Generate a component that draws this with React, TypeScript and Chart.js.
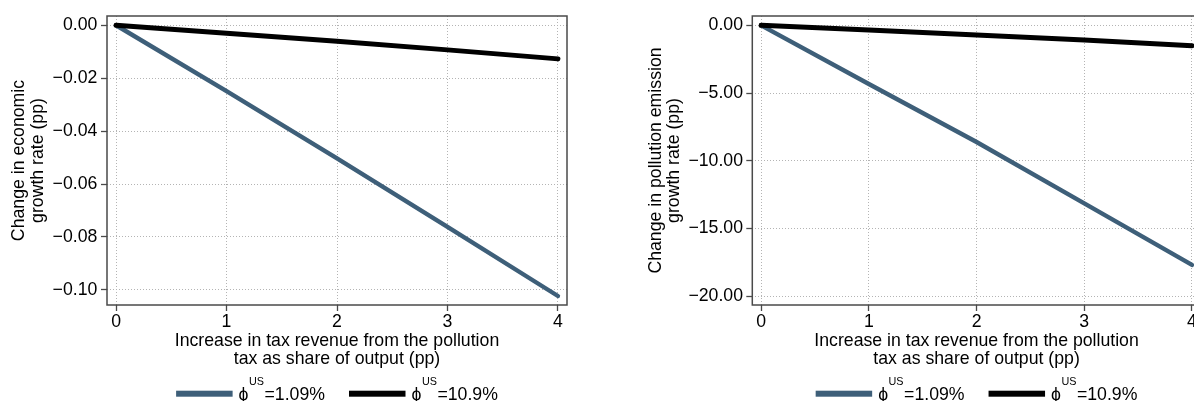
import React, { useEffect, useRef } from "react";
import { Chart, registerables } from "chart.js";

Chart.register(...registerables);

// ---- data ----
const xValues = [0, 1, 2, 3, 4];
const growthPhiLow = [0, -0.0249, -0.0503, -0.0762, -0.1023];
const growthPhiHigh = [0, -0.003, -0.006, -0.0093, -0.0127];
const emissionPhiLow = [0, -4.33, -8.62, -13.15, -17.7];
const emissionPhiHigh = [0, -0.35, -0.72, -1.09, -1.51];
const phiLabels = ["1.09%", "10.9%"];
const xTitle = ["Increase in tax revenue from the pollution", "tax as share of output (pp)"];
const growthTitle = ["Change in economic", "growth rate (pp)"];
const emissionTitle = ["Change in pollution emission", "growth rate (pp)"];

const BLUE = "rgb(62,95,121)";
const BLACK = "#000000";
const FRAME = "#4a4a4a";
const GRID = "#b4b4b4";
const FAM = "'Liberation Sans', Arial, Helvetica, sans-serif";
const FS = 17.7;

const fmt = (v: number) => {
  const a = Math.abs(v);
  if (a < 1e-9) return "0.00";
  return (v < 0 ? "\u2212" : "") + a.toFixed(2);
};

type Panel = {
  left: number;
  width: number;
  yAxisWidth: number;
  padRight: number;
  yTitle: string[];
  yTitlePad: number;
  yTickPad: number;
  yMin: number;
  yMax: number;
  yStep: number;
  low: number[];
  high: number[];
};

const panels: Panel[] = [
  {
    left: 0, width: 590, yAxisWidth: 107, padRight: 23,
    yTitle: growthTitle, yTitlePad: 10.3, yTickPad: 3.7,
    yMin: -0.1057, yMax: 0.0035, yStep: 0.02,
    low: growthPhiLow, high: growthPhiHigh,
  },
  {
    left: 600, width: 620, yAxisWidth: 152.3, padRight: 19.2,
    yTitle: emissionTitle, yTitlePad: 46.8, yTickPad: 3.3,
    yMin: -20.66, yMax: 0.69, yStep: 5,
    low: emissionPhiLow, high: emissionPhiHigh,
  },
];

const framePlugin = {
  id: "frame",
  beforeDatasetsDraw(chart: any) {
    const { ctx, chartArea: a } = chart;
    ctx.save();
    ctx.strokeStyle = FRAME;
    ctx.lineWidth = 1.5;
    ctx.strokeRect(a.left, a.top, a.right - a.left, a.bottom - a.top);
    ctx.restore();
  },
};

const legendPlugin = {
  id: "stataLegend",
  afterDraw(chart: any) {
    const { ctx, chartArea: a } = chart;
    const mainFont = `${FS}px ${FAM}`;
    const supFont = `10.8px ${FAM}`;
    const swatch = 56.5;
    const gap = 6;
    const itemGap = 24;
    const colors = [BLUE, BLACK];
    ctx.save();
    const parts = phiLabels.map((lab) => {
      ctx.font = mainFont;
      const wPhi = ctx.measureText("\u03d5").width;
      const wRest = ctx.measureText("=" + lab).width;
      ctx.font = supFont;
      const wSup = ctx.measureText("US").width;
      return { lab, wPhi, wSup, wRest, total: swatch + gap + wPhi + 0.5 + wSup + 0.5 + wRest };
    });
    const totalW = parts.reduce((s, p) => s + p.total, 0) + itemGap * (parts.length - 1);
    let x = (a.left + a.right) / 2 - totalW / 2;
    const yc = 393.7;
    const base = 400;
    parts.forEach((p, i) => {
      ctx.fillStyle = colors[i];
      ctx.fillRect(x, yc - 3, swatch, 6);
      let tx = x + swatch + gap;
      ctx.fillStyle = "#000";
      ctx.textBaseline = "alphabetic";
      ctx.textAlign = "left";
      ctx.font = mainFont;
      ctx.fillText("\u03d5", tx, base);
      tx += p.wPhi + 0.5;
      ctx.font = supFont;
      ctx.fillText("US", tx, base - 15);
      tx += p.wSup + 0.5;
      ctx.font = mainFont;
      ctx.fillText("=" + p.lab, tx, base);
      x += p.total + itemGap;
    });
    ctx.restore();
  },
};

function ChartPanel({ panel }: { panel: Panel }) {
  const ref = useRef<HTMLCanvasElement | null>(null);
  useEffect(() => {
    if (!ref.current) return;
    const mk = (ys: number[]) => xValues.map((x, i) => ({ x, y: ys[i] }));
    const chart = new Chart(ref.current, {
      type: "line",
      data: {
        datasets: [
          {
            label: "phi " + phiLabels[0],
            data: mk(panel.low),
            borderColor: BLUE,
            borderWidth: 4.4,
            pointRadius: 0,
            borderCapStyle: "round",
            order: 1,
          },
          {
            label: "phi " + phiLabels[1],
            data: mk(panel.high),
            borderColor: BLACK,
            borderWidth: 5,
            pointRadius: 0,
            borderCapStyle: "round",
            order: 0,
          },
        ],
      },
      options: {
        animation: false,
        responsive: false,
        maintainAspectRatio: false,
        devicePixelRatio: 1,
        layout: { padding: { left: 0, top: 16, right: panel.padRight, bottom: 32.5 } },
        plugins: { legend: { display: false }, tooltip: { enabled: false } },
        scales: {
          x: {
            type: "linear",
            min: -0.082,
            max: 4.082,
            afterFit: (s: any) => { s.height = 63.5; },
            border: { display: false, dash: [1, 2] },
            grid: {
              color: GRID,
              lineWidth: 1,
              drawTicks: true,
              tickLength: 6,
              tickColor: FRAME,
              tickWidth: 1.3,
              tickBorderDash: [],
            },
            ticks: {
              stepSize: 1,
              includeBounds: false,
              padding: 0,
              color: "#000",
              font: { family: FAM, size: FS },
              maxRotation: 0,
              callback: (v: any) => String(v),
            },
            title: {
              display: true,
              text: xTitle,
              color: "#000",
              font: { family: FAM, size: FS, lineHeight: 1.035 },
              padding: { top: 0, bottom: 0 },
            },
          },
          y: {
            type: "linear",
            min: panel.yMin,
            max: panel.yMax,
            afterFit: (s: any) => { s.width = panel.yAxisWidth; },
            border: { display: false, dash: [1, 2] },
            grid: {
              color: GRID,
              lineWidth: 1,
              drawTicks: true,
              tickLength: 6,
              tickColor: FRAME,
              tickWidth: 1.3,
              tickBorderDash: [],
            },
            ticks: {
              stepSize: panel.yStep,
              includeBounds: false,
              padding: panel.yTickPad,
              color: "#000",
              font: { family: FAM, size: FS },
              callback: (v: any) => fmt(Number(v)),
            },
            title: {
              display: true,
              text: panel.yTitle,
              color: "#000",
              font: { family: FAM, size: FS, lineHeight: 1.035 },
              padding: { top: panel.yTitlePad, bottom: 0 },
            },
          },
        },
      },
      plugins: [framePlugin, legendPlugin],
    } as any);
    return () => chart.destroy();
  }, [panel]);
  return (
    <div style={{ position: "absolute", left: panel.left, top: 0, width: panel.width, height: 401 }}>
      <canvas ref={ref} width={panel.width} height={401} style={{ width: panel.width, height: 401, display: "block" }} />
    </div>
  );
}

export default function App() {
  return (
    <div
      style={{
        position: "absolute",
        left: 0,
        top: 0,
        width: 1194,
        height: 401,
        overflow: "hidden",
        background: "#fff",
      }}
    >
      {panels.map((p, i) => (
        <ChartPanel key={i} panel={p} />
      ))}
    </div>
  );
}
